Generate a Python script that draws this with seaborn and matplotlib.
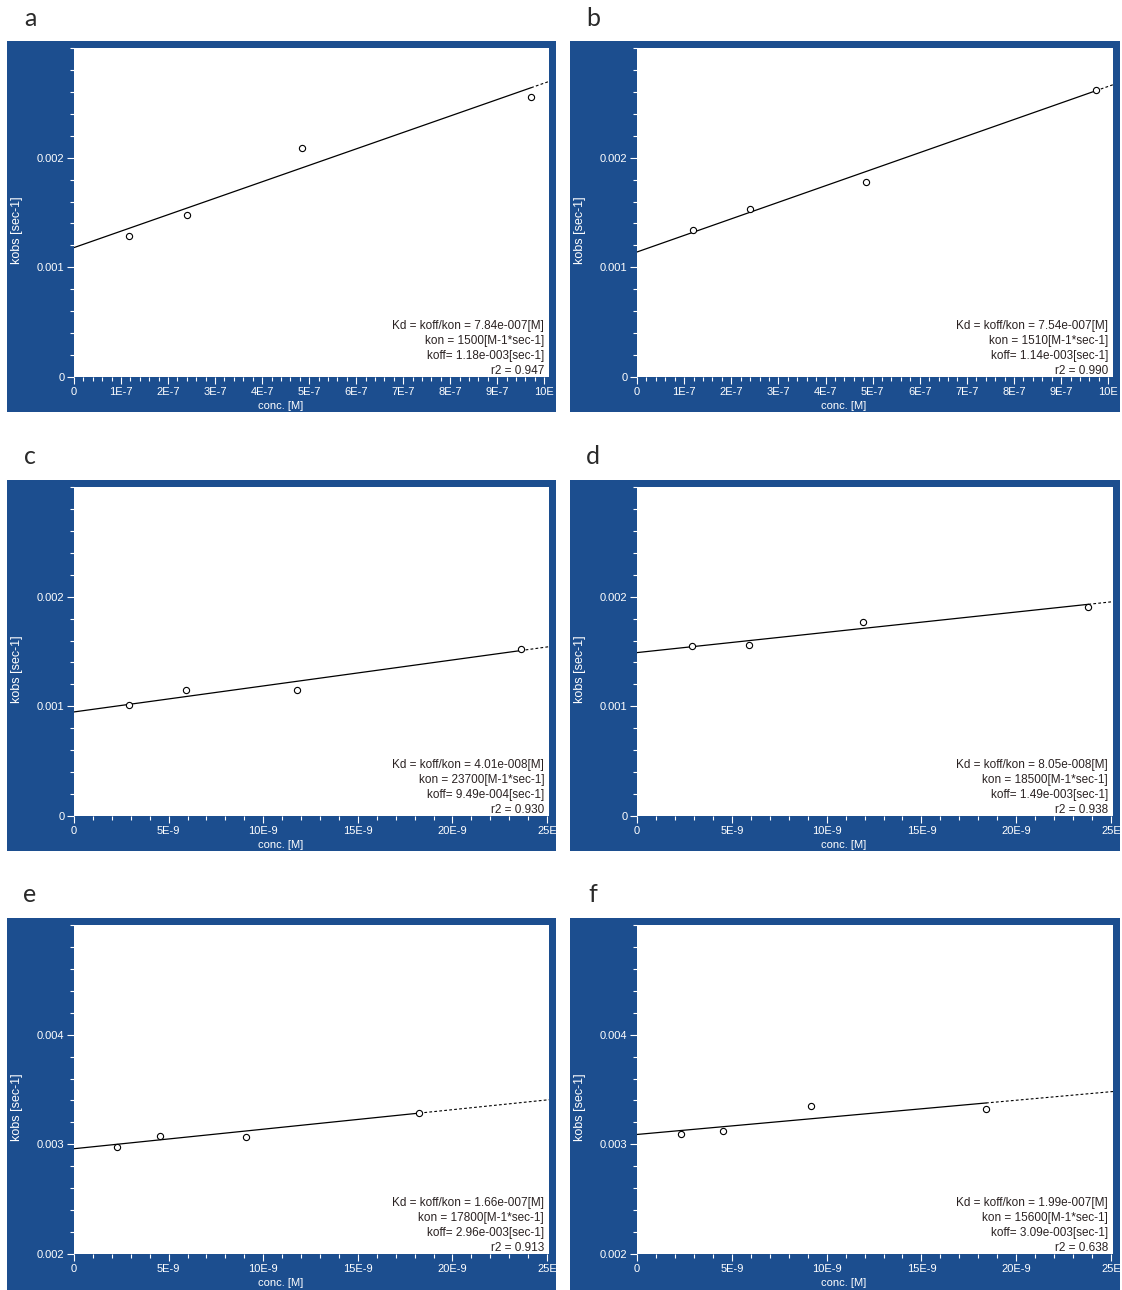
"""Six kobs vs concentration panels (kon / koff fits)"""

import numpy as np
import matplotlib.pyplot as plt
from matplotlib.patches import Rectangle
from matplotlib.ticker import MultipleLocator
import seaborn as sns

conc_a = [1.18e-7, 2.40e-7, 4.85e-7, 9.72e-7]
kobs_a = [0.00129, 0.00148, 0.00209, 0.00255]
conc_b = [1.19e-7, 2.40e-7, 4.85e-7, 9.74e-7]
kobs_b = [0.00134, 0.00153, 0.00178, 0.00262]
conc_c = [2.9e-9, 5.9e-9, 11.8e-9, 23.6e-9]
kobs_c = [0.00101, 0.00115, 0.00115, 0.00152]
conc_d = [2.9e-9, 5.9e-9, 11.9e-9, 23.8e-9]
kobs_d = [0.00155, 0.00156, 0.00177, 0.00191]
conc_e = [2.27e-9, 4.55e-9, 9.1e-9, 18.25e-9]
kobs_e = [0.00298, 0.00308, 0.00307, 0.00329]
conc_f = [2.33e-9, 4.55e-9, 9.15e-9, 18.4e-9]
kobs_f = [0.00309, 0.00312, 0.00335, 0.00332]

# fit results printed in each panel
kon = [1500, 1510, 23700, 18500, 17800, 15600]
koff = [1.18e-3, 1.14e-3, 9.49e-4, 1.49e-3, 2.96e-3, 3.09e-3]
kd_txt = ["7.84e-007", "7.54e-007", "4.01e-008", "8.05e-008", "1.66e-007", "1.99e-007"]
koff_txt = ["1.18e-003", "1.14e-003", "9.49e-004", "1.49e-003", "2.96e-003", "3.09e-003"]
r2_txt = ["0.947", "0.990", "0.930", "0.938", "0.913", "0.638"]
letters = ["a", "b", "c", "d", "e", "f"]

# axis ticks
xt_micro = [0, 1e-7, 2e-7, 3e-7, 4e-7, 5e-7, 6e-7, 7e-7, 8e-7, 9e-7, 1e-6]
xl_micro = ["0", "1E-7", "2E-7", "3E-7", "4E-7", "5E-7", "6E-7", "7E-7", "8E-7", "9E-7", "10E"]
xt_nano = [0, 5e-9, 10e-9, 15e-9, 20e-9, 25e-9]
xl_nano = ["0", "5E-9", "10E-9", "15E-9", "20E-9", "25E"]
yt_low = [0, 0.001, 0.002]
yl_low = ["0", "0.001", "0.002"]
yt_high = [0.002, 0.003, 0.004]
yl_high = ["0.002", "0.003", "0.004"]

BLUE = "#1c4e8f"
W, H = 1122, 1290


def fbox(x0, y0, x1, y1):
    """pixel box -> figure fraction rect"""
    return [x0 / W, 1 - y1 / H, (x1 - x0) / W, (y1 - y0) / H]


def main():
    sns.set_style("white")
    plt.rcParams["font.family"] = ["Liberation Sans", "DejaVu Sans"]
    fig = plt.figure(figsize=(11.22, 12.90), dpi=100)

    concs = [conc_a, conc_b, conc_c, conc_d, conc_e, conc_f]
    kobss = [kobs_a, kobs_b, kobs_c, kobs_d, kobs_e, kobs_f]
    cols = [(7, 556, 74, 549), (570, 1120, 637, 1113)]
    rows = [(41, 412, 48, 377), (480, 851, 487, 816), (918, 1290, 925, 1254)]

    for i in range(6):
        fx0, fx1, wx0, wx1 = cols[i % 2]
        fy0, fy1, wy0, wy1 = rows[i // 2]
        fig.add_artist(Rectangle((fx0 / W, 1 - fy1 / H), (fx1 - fx0) / W,
                                 (fy1 - fy0) / H, transform=fig.transFigure,
                                 facecolor=BLUE, edgecolor="none", zorder=0))
        ax = fig.add_axes(fbox(wx0, wy0, wx1, wy1))
        ax.set_facecolor("white")

        x = np.array(concs[i])
        y = np.array(kobss[i])
        if i < 2:
            xmax, xt, xl = 1.01e-6, xt_micro, xl_micro
            ax.xaxis.set_minor_locator(MultipleLocator(2e-8))
        else:
            xmax, xt, xl = 25.1e-9, xt_nano, xl_nano
            ax.xaxis.set_minor_locator(MultipleLocator(1e-9))
        if i < 4:
            ylo, yt, yl = 0, yt_low, yl_low
        else:
            ylo, yt, yl = 0.002, yt_high, yl_high

        xs = np.array([0, x.max()])
        sns.lineplot(x=xs, y=koff[i] + kon[i] * xs, ax=ax, color="black",
                     lw=0.9)
        xd = np.array([x.max(), xmax])
        ax.plot(xd, koff[i] + kon[i] * xd, color="black", lw=0.8,
                linestyle=(0, (2.5, 2)))
        sns.scatterplot(x=x, y=y, ax=ax, marker="o", s=20, color="white",
                        edgecolor="black", linewidth=0.8, zorder=3)

        ax.set_xlim(0, xmax)
        ax.set_ylim(ylo, ylo + 0.003)
        ax.set_xticks(xt, xl)
        ax.set_yticks(yt, yl)
        ax.yaxis.set_minor_locator(MultipleLocator(0.0002))
        ax.tick_params(which="both", direction="out", colors="white",
                       labelcolor="white", labelsize=8, width=0.8)
        ax.tick_params(which="major", length=5, pad=2)
        ax.tick_params(which="minor", length=3)
        ax.tick_params(axis="x", which="both", bottom=True, pad=2)
        ax.tick_params(axis="y", which="both", left=True)
        for s in ax.spines.values():
            s.set_visible(False)

        ax.set_ylabel("kobs [sec-1]", color="white", fontsize=9)
        ax.yaxis.set_label_coords(-0.107, 0.445)
        ax.set_xlabel("conc. [M]", color="white", fontsize=8)
        ax.xaxis.set_label_coords(0.434, -0.072)

        txt = (f"Kd = koff/kon = {kd_txt[i]}[M]\n"
               f"kon = {kon[i]}[M-1*sec-1]\n"
               f"koff= {koff_txt[i]}[sec-1]\n"
               f"r2 = {r2_txt[i]}")
        ax.text(0.99, 0.0, txt, transform=ax.transAxes, ha="right",
                va="bottom", fontsize=8.5, color="#2a2222", linespacing=1.32)

        fig.text((fx0 + 23) / W, 1 - (fy0 - 23) / H, letters[i], ha="center",
                 va="center", fontsize=18, color="#2a2a2a",
                 family=["Lato", "DejaVu Sans"])

    plt.savefig("out.png", dpi=100)


if __name__ == "__main__":
    main()
